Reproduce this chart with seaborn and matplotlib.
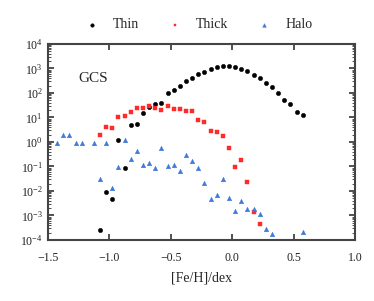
import numpy as np
import pandas as pd
import matplotlib
matplotlib.use("Agg")
from matplotlib import pyplot as plt
import seaborn as sns

# thin disc, 0.05 dex bins
thin_feh = [-1.075, -1.025, -0.975, -0.925, -0.875, -0.825, -0.775, -0.725,
            -0.675, -0.625, -0.575, -0.525, -0.475, -0.425, -0.375, -0.325,
            -0.275, -0.225, -0.175, -0.125, -0.075, -0.025, 0.025, 0.075,
            0.125, 0.175, 0.225, 0.275, 0.325, 0.375, 0.425, 0.475, 0.525, 0.575]
thin_n = [2.5e-4, 0.009, 0.0047, 1.2, 0.087, 4.9, 5.4, 15,
          27, 35, 39, 100, 130, 195, 310, 410,
          600, 720, 960, 1150, 1260, 1260, 1150, 960,
          790, 550, 410, 250, 175, 100, 52, 35, 17, 12.6]

thick_feh = [-1.075, -1.025, -0.975, -0.925, -0.875, -0.825, -0.775, -0.725,
             -0.675, -0.625, -0.575, -0.525, -0.475, -0.425, -0.375, -0.325,
             -0.275, -0.225, -0.175, -0.125, -0.075, -0.025, 0.025, 0.075,
             0.125, 0.175, 0.225]
thick_n = [1.9, 4.0, 3.7, 10.5, 11.5, 17, 24, 24,
           30, 24, 20, 30, 22, 22, 18.5, 18.5,
           8.0, 6.6, 2.8, 2.6, 1.7, 0.57, 0.095, 0.19,
           0.023, 0.0014, 4.5e-4]

halo_feh = [-1.425, -1.375, -1.325, -1.275, -1.225, -1.125, -1.075, -1.025,
            -0.975, -0.925, -0.875, -0.825, -0.775, -0.725, -0.675, -0.625,
            -0.575, -0.525, -0.475, -0.425, -0.375, -0.325, -0.275, -0.225,
            -0.175, -0.125, -0.075, -0.025, 0.025, 0.075, 0.125, 0.175,
            0.225, 0.275, 0.325, 0.575]
halo_n = [0.91, 1.95, 1.95, 0.91, 0.91, 0.91, 0.031, 0.91,
          0.013, 0.095, 1.2, 0.2, 0.43, 0.115, 0.14, 0.087,
          0.57, 0.105, 0.115, 0.066, 0.29, 0.17, 0.087, 0.021,
          0.0047, 0.0069, 0.031, 0.0052, 0.0015, 0.0039, 0.0019, 0.0019,
          0.00115, 2.8e-4, 1.7e-4, 2.1e-4]

df = pd.concat([
    pd.DataFrame({"feh": thin_feh, "n": thin_n, "pop": "Thin"}),
    pd.DataFrame({"feh": thick_feh, "n": thick_n, "pop": "Thick"}),
    pd.DataFrame({"feh": halo_feh, "n": halo_n, "pop": "Halo"}),
])

sns.set_style("ticks")
plt.rcParams["font.family"] = ["Liberation Serif", "DejaVu Serif"]
plt.rcParams["mathtext.fontset"] = "stix"
plt.rcParams["axes.unicode_minus"] = False

fig = plt.figure(figsize=(3.74, 3.01), dpi=100)
ax = fig.add_axes([0.128, 0.203, 0.821, 0.651])

palette = {"Thin": "black", "Thick": "#ff2a2a", "Halo": "#3f7ad8"}
markers = {"Thin": "o", "Thick": "s", "Halo": "^"}
sizes = {"Thin": 10, "Thick": 6, "Halo": 11}

for name in ["Thin", "Thick", "Halo"]:
    sub = df[df["pop"] == name]
    sns.scatterplot(data=sub, x="feh", y="n", ax=ax, color=palette[name],
                    marker=markers[name], s=sizes[name], linewidth=0.3,
                    edgecolor=palette[name], label=name)

ax.set_yscale("log")
ax.set_xlim(-1.5, 1.0)
ax.set_ylim(1e-4, 1e4)
ax.set_xticks([-1.5, -1.0, -0.5, 0.0, 0.5, 1.0])
ax.set_xticklabels(["\u22121.5", "\u22121.0", "\u22120.5", "0.0", "0.5", "1.0"])
ax.set_yticks([10.0 ** k for k in range(-4, 5)])
ax.yaxis.set_minor_locator(matplotlib.ticker.LogLocator(base=10, subs=np.arange(2, 10), numticks=20))
ax.yaxis.set_minor_formatter(matplotlib.ticker.NullFormatter())
ax.tick_params(which="both", direction="in", top=True, right=True, labelsize=8.5,
               colors="#333333", labelcolor="#222222")
ax.tick_params(which="major", length=4, width=1.2)
ax.tick_params(which="minor", length=2.5, width=0.6)
ax.tick_params(axis="x", pad=9)
for sp in ax.spines.values():
    sp.set_linewidth(1.5)
    sp.set_color("#444444")

ax.set_xlabel("[Fe/H]/dex", fontsize=10, labelpad=5)
ax.set_ylabel("")
ax.text(-1.25, 10 ** 2.57, "GCS", fontsize=11, va="center", ha="left")

ax.legend(loc="lower center", bbox_to_anchor=(0.48, 1.0), ncol=3, frameon=False,
          fontsize=10, markerscale=0.8, handletextpad=0.5, columnspacing=1.6)

fig.savefig("out.png", dpi=100)
